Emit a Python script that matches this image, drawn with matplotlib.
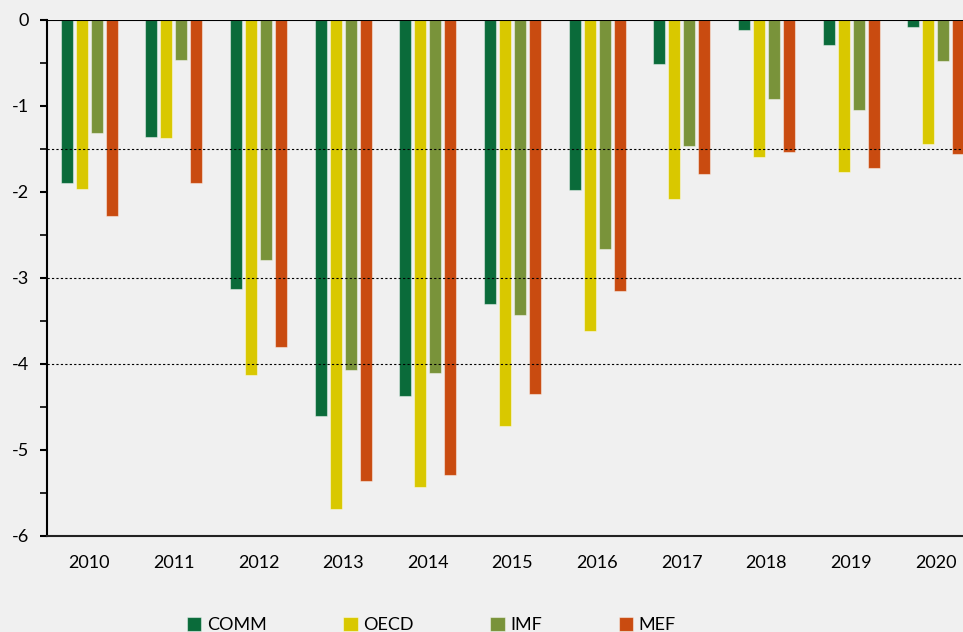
import matplotlib
matplotlib.use("Agg")
import matplotlib.pyplot as plt
import numpy as np
from matplotlib.ticker import MultipleLocator

years = ["2010", "2011", "2012", "2013", "2014", "2015", "2016", "2017", "2018", "2019", "2020"]
comm = [-1.90, -1.36, -3.13, -4.60, -4.37, -3.30, -1.98, -0.51, -0.12, -0.29, -0.08]
oecd = [-1.97, -1.37, -4.13, -5.69, -5.43, -4.72, -3.62, -2.08, -1.59, -1.77, -1.44]
imf = [-1.31, -0.46, -2.79, -4.07, -4.10, -3.43, -2.66, -1.46, -0.92, -1.05, -0.48]
mef = [-2.28, -1.89, -3.80, -5.36, -5.29, -4.35, -3.15, -1.79, -1.53, -1.72, -1.56]
series_names = ["COMM", "OECD", "IMF", "MEF"]
ref_lines = [-1.5, -3, -4]

colors = ["#0A6B3A", "#D9C800", "#79933A", "#C94B10"]
bg = "#F0F0F0"

plt.rcParams['font.family'] = ['Lato', 'DejaVu Sans']

fig = plt.figure(figsize=(9.63, 6.32), dpi=100, facecolor=bg)
ax = fig.add_axes([47/963, (632-536)/632, (978-47)/963, (536-20)/632])
ax.set_facecolor(bg)

x = np.arange(len(years))
slot = 15/84.6
width = 12/84.6
offsets = np.array([-1.5, -0.5, 0.5, 1.5]) * slot
handles = []
for data, off, c, name in zip([comm, oecd, imf, mef], offsets, colors, series_names):
    b = ax.bar(x + off, data, width=width, color=c, edgecolor=(1, 1, 1, 0.45),
               linewidth=0.8, label=name, zorder=2)
    handles.append(b)

for r in ref_lines:
    ax.axhline(r, color="black", linestyle=(0, (2, 2)), linewidth=0.8, zorder=3)
ax.axhline(0, color="black", linewidth=1.5, zorder=4)

ax.set_xlim(-0.5, 10.5)
ax.set_ylim(-6, 0)
ax.yaxis.set_major_locator(MultipleLocator(1))
ax.yaxis.set_minor_locator(MultipleLocator(0.5))
ax.set_yticks([0, -1, -2, -3, -4, -5, -6])
ax.set_yticklabels(["0", "-1", "-2", "-3", "-4", "-5", "-6"])
ax.set_xticks(x)
ax.set_xticklabels(years)
ax.tick_params(axis='y', which='major', length=5, width=1.5, direction='out', pad=8, labelsize=13)
ax.tick_params(axis='y', which='minor', length=5, width=1.2, direction='out')
ax.tick_params(axis='x', length=0, pad=14, labelsize=13)

for s in ["top", "right"]:
    ax.spines[s].set_visible(False)
ax.spines["left"].set_linewidth(1.5)
ax.spines["left"].set_color("black")
ax.spines["bottom"].set_linewidth(1.5)
ax.spines["bottom"].set_color("#222222")

leg = fig.legend(handles=handles, labels=series_names, loc="center left",
                 bbox_to_anchor=(187/963, 1 - 625/632), ncol=4, frameon=False,
                 fontsize=13, handlelength=0.8, handleheight=0.8, handletextpad=0.3,
                 columnspacing=4.25, borderaxespad=0, borderpad=0)

fig.savefig("out.png", dpi=100, facecolor=bg)
